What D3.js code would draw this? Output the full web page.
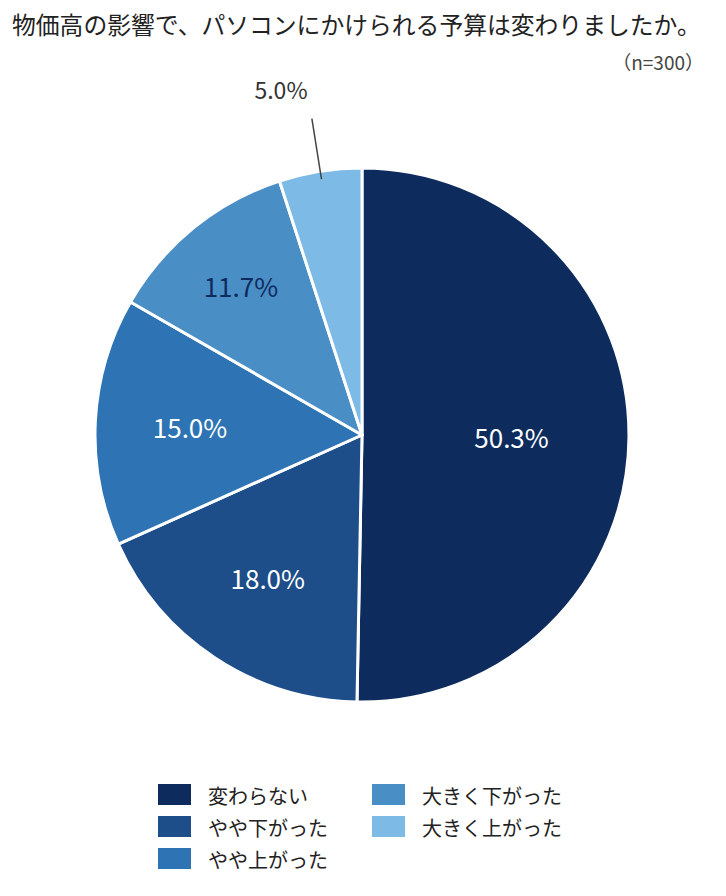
<!DOCTYPE html>
<html><head><meta charset="utf-8">
<script src="https://cdn.jsdelivr.net/npm/d3@7"></script>
<style>body{margin:0;background:#fff;}svg{display:block;font-family:"Noto Sans CJK JP","Noto Sans",sans-serif;}</style>
</head><body>
<script>
const categories = ["変わらない","やや下がった","やや上がった","大きく下がった","大きく上がった"];
const values = [50.3, 18.0, 15.0, 11.7, 5.0];
const labels = ["50.3%","18.0%","15.0%","11.7%","5.0%"];
const colors = ["#0e2b5e","#1d4e89","#2e74b5","#4a8ec6","#7dbae6"];
const labelColors = ["#ffffff","#ffffff","#ffffff","#0e2b5e","#333333"];
const labelRadiusFactor = [0.56, 0.64, 0.645, 0.72, null];

const W = 726, H = 896;
const svg = d3.select("body").append("svg").attr("width", W).attr("height", H);

svg.append("text").attr("x", 12).attr("y", 34).attr("font-size", 23.8).attr("fill", "#222")
  .text("物価高の影響で、パソコンにかけられる予算は変わりましたか。");
svg.append("text").attr("x", 704).attr("y", 70).attr("font-size", 19).attr("fill", "#444")
  .attr("text-anchor", "end").text("（n=300）");

const cx = 362, cy = 435, r = 267;
const g = svg.append("g").attr("transform", `translate(${cx},${cy})`);
const pie = d3.pie().sort(null).value(d => d)(values);
const arc = d3.arc().innerRadius(0).outerRadius(r);
g.selectAll("path").data(pie).enter().append("path")
  .attr("d", arc).attr("fill", (d, i) => colors[i])
  .attr("stroke", "#fff").attr("stroke-width", 3).attr("stroke-linejoin", "round");

pie.forEach((d, i) => {
  const a = (d.startAngle + d.endAngle) / 2;
  if (labelRadiusFactor[i] != null) {
    const lr = r * labelRadiusFactor[i];
    g.append("text").attr("x", lr * Math.sin(a)).attr("y", -lr * Math.cos(a))
      .attr("text-anchor", "middle").attr("dominant-baseline", "central")
      .attr("font-size", 26).attr("fill", labelColors[i]).text(labels[i]);
  } else {
    const r1 = r * 0.97, r2 = r * 1.2;
    g.append("line")
      .attr("x1", r1 * Math.sin(a)).attr("y1", -r1 * Math.cos(a))
      .attr("x2", r2 * Math.sin(a)).attr("y2", -r2 * Math.cos(a))
      .attr("stroke", "#444").attr("stroke-width", 1.5);
    g.append("text").attr("x", -81).attr("y", -336).attr("text-anchor", "middle")
      .attr("font-size", 23).attr("fill", labelColors[i]).text(labels[i]);
  }
});

const legend = svg.append("g");
categories.forEach((c, i) => {
  const col = i < 3 ? 0 : 1, row = i < 3 ? i : i - 3;
  const x = 158 + col * 214, y = 795 + row * 32;
  legend.append("rect").attr("x", x).attr("y", y - 11).attr("width", 33).attr("height", 21).attr("fill", colors[i]);
  legend.append("text").attr("x", x + 50).attr("y", y).attr("dominant-baseline", "central")
    .attr("font-size", 20).attr("fill", "#222").text(c);
});
</script>
</body></html>
